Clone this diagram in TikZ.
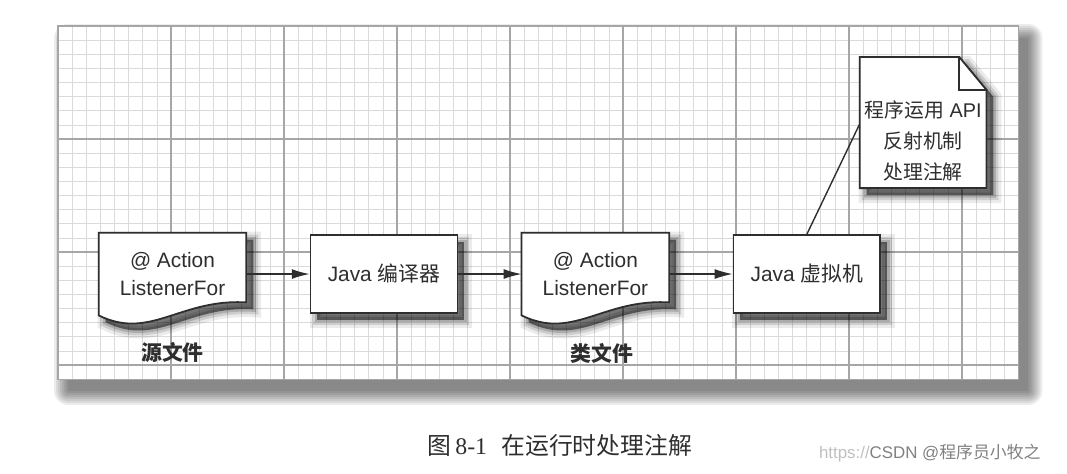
\documentclass[tikz,border=0pt]{standalone}
\usepackage{fontspec}
\setmainfont{Liberation Sans}
\newfontfamily\cjk{Noto Sans CJK SC}
\newfontfamily\capfont{Liberation Serif}
\usetikzlibrary{positioning,arrows.meta,backgrounds}

\definecolor{inkgray}{HTML}{2E2E2E}
\definecolor{minorline}{HTML}{DADADA}
\definecolor{majorline}{HTML}{A6A6A6}

\tikzset{
  softshadow/.style={
    preaction={draw=black,draw opacity=.08,line width=8pt,transform canvas={shift={(3.5pt,-3.5pt)}}},
    preaction={draw=black,draw opacity=.12,line width=5pt,transform canvas={shift={(3.5pt,-3.5pt)}}},
    preaction={draw=black,draw opacity=.16,line width=2.5pt,transform canvas={shift={(3.5pt,-3.5pt)}}},
    preaction={fill=black,fill opacity=.50,transform canvas={shift={(3.5pt,-3.5pt)}}}},
  sheetfade/.style={fill=black,fill opacity=.075,rounded corners=#1},
  stepbox/.style={draw=inkgray,line width=0.9pt,fill=white,softshadow,
    minimum width=2.6cm,minimum height=1.38cm,
    font=\fontsize{10.5}{14.5}\selectfont,text=inkgray},
  docnode/.style={minimum width=2.6cm,minimum height=1.45cm,align=center,
    font=\fontsize{10.5}{14.5}\selectfont,text=inkgray},
  docline/.style={draw=inkgray,line width=0.9pt,fill=white,softshadow},
  doclabel/.style={font=\fontsize{10.5}{12}\selectfont\cjk\bfseries,text=inkgray},
  flow/.style={draw=inkgray,line width=0.7pt,-{Latex[length=9pt,width=5pt]}},
}

\begin{document}
\begin{tikzpicture}
\useasboundingbox (-1.027,-7.929) rectangle (17.858,0.460);

% grid sheet
\begin{scope}[on background layer]
  \foreach \g in {0,...,7}
    \fill[sheetfade=\g pt] ([shift={(5pt-\g pt,-6pt-\g pt)}]0,-6.25)
      rectangle ([shift={(5pt+\g pt,-6pt+\g pt)}]17,0);
  \fill[white] (0,-6.25) rectangle (17,0);
  \draw[minorline,line width=0.35pt,step=0.25cm] (0,-6.25) grid (17,0);
  \draw[majorline,line width=0.6pt,step=2cm] (0,-6.25) grid (17,0);
  \draw[majorline,line width=0.6pt] (0,-6.25) rectangle (17,0);
\end{scope}

% flow
\node[docnode] (src) at (2.026,-4.39) {@ Action\\ListenerFor};
\node[stepbox,right=1.12cm of src] (javac) {Java {\cjk 编译器}};
\node[docnode,right=1.12cm of javac] (cls) {@ Action\\ListenerFor};
\node[stepbox,right=1.12cm of cls] (jvm) {Java {\cjk 虚拟机}};

\node[doclabel,below=0.36cm of src] (srclabel) {源文件};
\node[doclabel,below=0.38cm of cls,xshift=0.12cm] (clslabel) {类文件};

% note
\node[align=center,inner sep=0pt,minimum width=2.23cm,
  font=\fontsize{10}{15.5}\selectfont,text=inkgray] (note) at (15.31,-2.035)
  {{\cjk 程序运用} API\\{\cjk 反射机制}\\{\cjk 处理注解}};

\begin{scope}[on background layer]
  \foreach \d in {src,cls}
    \draw[docline] (\d.north west) -- (\d.north east) -- ([yshift=0.23cm]\d.south east)
      .. controls ([shift={(-1.17cm,0.3cm)}]\d.south east)
      and ([shift={(0.91cm,-0.45cm)}]\d.south west) .. (\d.south west) -- cycle;
  \draw[docline] ([yshift=-0.12cm]note.south west) -- ([yshift=0.77cm]note.north west)
    -- ([shift={(-0.48cm,0.77cm)}]note.north east) -- ([yshift=0.19cm]note.north east)
    -- ([yshift=-0.12cm]note.south east) -- cycle;
  \draw[inkgray,line width=0.9pt] ([shift={(-0.48cm,0.77cm)}]note.north east)
    |- ([yshift=0.19cm]note.north east);
\end{scope}

\draw[flow] (src) -- (javac);
\draw[flow] (javac) -- (cls);
\draw[flow] (cls) -- (jvm);
\draw[inkgray,line width=0.7pt] (jvm.north) -- ([yshift=0.3cm]note.west);

% caption
\node[font=\fontsize{12}{14}\selectfont,text=inkgray] (caption) at (8.885,-7.416)
  {{\cjk 图}\hspace{0.15em}{\capfont 8-1}\hspace{0.6em}{\cjk 在运行时处理注解}};
\node[font=\fontsize{8.5}{10}\selectfont] (mark) at (15.43,-7.557)
  {\textcolor{black!25}{https://}\textcolor{black!50}{CSDN @{\cjk 程序员小牧之}}};
\end{tikzpicture}
\end{document}
